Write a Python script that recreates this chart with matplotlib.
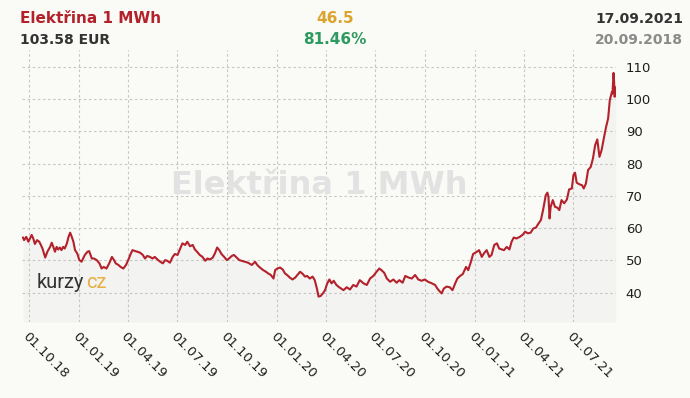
import numpy as np
import matplotlib
matplotlib.use("Agg")
import matplotlib.pyplot as plt
import matplotlib.dates as mdates

# ---------------- data ----------------
start_date = "2018-09-20"
end_date = "2021-09-17"
day_offsets = [
    0, 2, 6, 10, 16, 19, 22, 26, 30, 33,
    36, 41, 45, 50, 53, 56, 59, 62, 65, 68,
    71, 74, 77, 81, 84, 87, 90, 93, 96, 100,
    104, 108, 114, 119, 122, 127, 131, 136, 141, 145,
    149, 154, 159, 164, 168, 171, 176, 180, 185, 190,
    194, 199, 202, 207, 211, 216, 221, 225, 229, 234,
    239, 243, 248, 253, 258, 262, 266, 271, 276, 280,
    285, 290, 294, 299, 303, 308, 313, 317, 321, 326,
    331, 336, 340, 345, 350, 354, 358, 362, 366, 371,
    376, 380, 385, 389, 394, 399, 403, 409, 415, 422,
    428, 432, 437, 443, 448, 452, 457, 462, 465, 469,
    474, 479, 483, 487, 492, 497, 502, 506, 511, 516,
    520, 524, 529, 534, 538, 542, 545, 549, 553, 557,
    561, 565, 569, 573, 578, 583,
    591, 597, 603, 609, 615, 621, 628, 634, 640, 646,
    652, 657, 661, 666, 671, 677, 683, 689, 694, 700,
    705, 711, 717, 723, 729, 735, 741, 747, 754, 760,
    764, 769, 772, 776, 781, 787, 792, 797, 801, 806,
    811, 817, 821, 826, 830, 837, 841, 846, 850, 855,
    860, 864, 869, 874, 878, 883, 887, 892, 897, 901,
    905, 910, 916, 921, 926, 931, 936, 941, 946, 950,
    955, 959, 964, 967, 969, 971, 973, 977, 981, 985,
    989, 993, 998, 1003, 1007, 1012, 1015, 1018, 1021, 1026,
    1031, 1034, 1038, 1042, 1047, 1051, 1055, 1059, 1063, 1067,
    1071, 1075, 1079, 1082, 1086, 1087, 1089, 1090, 1091, 1093,
]
prices = [
    57.08, 56.3, 57.3, 55.8, 57.9, 56.8, 55.1, 56.3, 55.8, 54.8,
    53.7, 50.9, 52.7, 54.2, 55.5, 54.2, 52.7, 54.2, 53.4, 54.0,
    53.2, 54.2, 53.7, 55.3, 57.3, 58.6, 57.3, 55.8, 53.2, 52.2,
    50.1, 49.6, 51.7, 52.7, 52.9, 50.6, 50.6, 50.1, 49.1, 47.5,
    48.0, 47.5, 49.1, 51.1, 50.1, 49.1, 48.6, 48.0, 47.5, 48.6,
    50.1, 52.2, 53.2, 52.9, 52.7, 52.4, 51.7, 50.6, 51.4, 51.1,
    50.6, 51.1, 50.3, 49.6, 49.1, 50.1, 49.9, 49.3, 51.1, 52.0,
    51.7, 53.7, 55.3, 54.8, 55.8, 54.4, 54.8, 53.4, 52.7, 51.7,
    51.1, 49.9, 50.6, 50.3, 50.9, 52.2, 54.0, 53.2, 52.0, 51.1,
    50.1, 50.6, 51.4, 51.7, 50.9, 50.1, 49.9, 49.6, 49.3, 48.6,
    49.6, 48.6, 47.8, 47.0, 46.5, 46.0, 45.5, 44.4, 47.0, 47.5,
    47.8, 47.2, 46.0, 45.5, 44.7, 44.1, 44.7, 45.5, 46.5, 45.8,
    45.0, 45.2, 44.4, 45.0, 43.9, 41.3, 38.8, 39.0, 39.8, 40.8,
    42.9, 44.1, 42.9, 43.7, 42.4, 41.7,
    40.8, 41.7, 41.0, 42.4, 41.9, 43.9, 42.9, 42.4, 44.4, 45.2,
    46.5, 47.5, 47.0, 46.2, 44.4, 43.4, 44.1, 43.1, 43.9, 43.1,
    45.2, 44.7, 44.4, 45.5, 44.1, 43.7, 44.1, 43.4, 42.9, 42.4,
    41.3, 40.3, 39.8, 41.3, 41.9, 41.7, 40.8, 42.9, 44.4, 45.2,
    45.8, 48.0, 47.0, 49.6, 52.0, 52.7, 53.2, 51.1, 52.2, 53.2,
    51.1, 51.7, 54.8, 55.3, 53.7, 53.4, 53.2, 54.2, 53.4, 55.8,
    57.1, 56.8, 57.3, 57.9, 58.9, 58.4, 58.6, 59.9, 60.2, 61.3,
    62.5, 65.6, 70.2, 71.0, 69.7, 63.0, 66.6, 68.7, 66.6, 66.4,
    65.6, 68.7, 67.7, 68.9, 72.0, 72.3, 76.4, 77.2, 74.1, 73.6,
    73.3, 72.3, 73.8, 78.0, 79.0, 81.6, 85.7, 87.5, 82.1, 84.2,
    87.8, 91.2, 94.0, 99.6, 102.2, 101.7, 108.1, 105.3, 100.7, 103.58,
]
tick_dates = ["2018-10-01", "2019-01-01", "2019-04-01", "2019-07-01",
              "2019-10-01", "2020-01-01", "2020-04-01", "2020-07-01",
              "2020-10-01", "2021-01-01", "2021-04-01", "2021-07-01"]
tick_labels = ["01.10.18", "01.01.19", "01.04.19", "01.07.19",
               "01.10.19", "01.01.20", "01.04.20", "01.07.20",
               "01.10.20", "01.01.21", "01.04.21", "01.07.21"]
y_ticks = [40, 50, 60, 70, 80, 90, 100, 110]

title = "Elektřina 1 MWh"
last_value_text = "103.58 EUR"
change_abs_text = "46.5"
change_pct_text = "81.46%"
date_last_text = "17.09.2021"
date_first_text = "20.09.2018"

# ---------------- figure ----------------
W, H = 690, 398
BG = "#fafaf6"
fig = plt.figure(figsize=(W / 100, H / 100), dpi=100, facecolor=BG)

def fx(px):
    return px / W

def fy(py):
    return 1 - py / H

ax = fig.add_axes([fx(22), fy(322), 594 / W, 272 / H])
ax.set_facecolor(BG)

t0 = np.datetime64(start_date)
dates = t0 + np.array(day_offsets).astype("timedelta64[D]")
vals = np.array(prices)

ymin, ymax = 30.93, 115.2
ax.set_ylim(ymin, ymax)
ax.set_xlim(mdates.date2num(t0) - 1.8, mdates.date2num(np.datetime64(end_date)) + 0.5)

ax.fill_between(dates, vals, ymin, color="#f3f3f2", lw=0, zorder=0.3)
ax.plot(dates, vals, color="#b3212b", lw=1.5, zorder=3, solid_joinstyle="round")

ax.set_axisbelow(True)
ax.grid(True, ls=(0, (2.3, 2.3)), color="#c6c6c6", lw=0.8)

for s in ax.spines.values():
    s.set_visible(False)

ax.yaxis.tick_right()
ax.set_yticks(y_ticks)
ax.set_yticklabels([str(v) for v in y_ticks])
ax.tick_params(axis="y", length=0, pad=7, labelsize=9.5, labelcolor="#1e1e1e")

ax.set_xticks([np.datetime64(d) for d in tick_dates])
ax.set_xticklabels(tick_labels, rotation=-45, ha="left", va="top",
                   rotation_mode="anchor")
ax.tick_params(axis="x", length=0, pad=5.5, labelsize=9.5, labelcolor="#1e1e1e")

# watermark
fig.text(fx(319), fy(186), title, ha="center", va="center",
         fontsize=23, fontweight="bold", color="#e2e2e2", zorder=1)

# logo
fig.text(fx(36.5), fy(287.5), "kurzy", ha="left", va="baseline",
         fontsize=14.5, family="Roboto", fontweight="normal", color="#333333")
fig.text(fx(86), fy(287.5), "cz", ha="left", va="baseline",
         fontsize=14.5, family="Roboto", fontweight="normal", color="#e6b042")

# header
fig.text(fx(20), fy(23), title, ha="left", va="baseline",
         fontsize=11, fontweight="bold", color="#b3212b")
fig.text(fx(20), fy(43.5), last_value_text, ha="left", va="baseline",
         fontsize=10, fontweight="bold", color="#333333")
fig.text(fx(335), fy(23), change_abs_text, ha="center", va="baseline",
         fontsize=11, fontweight="bold", color="#dba42c")
fig.text(fx(335), fy(43.5), change_pct_text, ha="center", va="baseline",
         fontsize=11, fontweight="bold", color="#2f9a60")
fig.text(fx(683), fy(23), date_last_text, ha="right", va="baseline",
         fontsize=10, fontweight="bold", color="#333333")
fig.text(fx(683), fy(43.5), date_first_text, ha="right", va="baseline",
         fontsize=10, fontweight="bold", color="#8a8a8a")

fig.savefig("out.png", dpi=100, facecolor=BG)
